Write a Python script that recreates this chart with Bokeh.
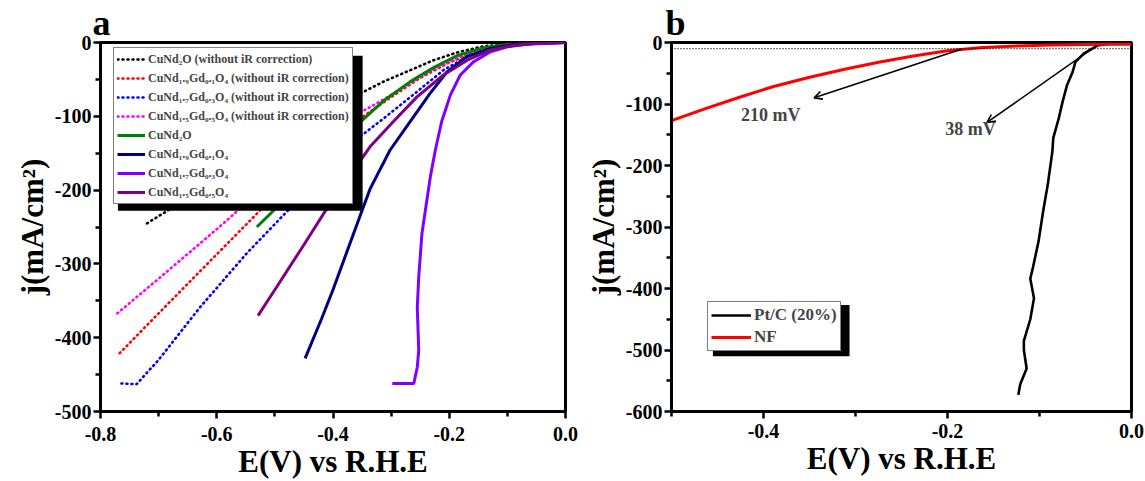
from bokeh.plotting import figure
from bokeh.models import Legend, LegendItem, FixedTicker, Label, Arrow, OpenHead, Span, BoxAnnotation
from bokeh.layouts import row
from bokeh.embed import file_html
from bokeh.resources import INLINE

FONT = "Liberation Serif"

# ---------------- Panel a data ----------------
a_x_ticks = [-0.8, -0.6, -0.4, -0.2, 0.0]
a_x_tick_labels = ["-0.8", "-0.6", "-0.4", "-0.2", "0.0"]
a_x_minor = [-0.7, -0.5, -0.3, -0.1]
a_y_ticks = [-500, -400, -300, -200, -100, 0]
a_y_tick_labels = ["-500", "-400", "-300", "-200", "-100", "0"]
a_y_minor = [-450, -350, -250, -150, -50]

cund2o_noir_x = [-0.72, -0.6, -0.5, -0.4, -0.353, -0.313, -0.267, -0.227, -0.187, -0.141, -0.1, -0.05, 0.0]
cund2o_noir_y = [-245, -187, -139, -91, -69, -53, -37.5, -24, -13.6, -5, -2.5, -0.8, 0]

gd01_noir_x = [-0.767, -0.7, -0.6, -0.526, -0.45, -0.4, -0.353, -0.3, -0.25, -0.2, -0.15, -0.1, -0.05, 0.0]
gd01_noir_y = [-421, -367, -287, -228, -170, -133, -103, -74, -48, -27, -12, -4, -1, 0]

gd03_noir_x = [-0.764, -0.738, -0.7, -0.629, -0.55, -0.478, -0.4, -0.351, -0.313, -0.256, -0.21, -0.169, -0.12, -0.07, 0.0]
gd03_noir_y = [-462, -463, -430, -359, -287, -228, -168, -126, -103, -67, -37.5, -19, -7, -2, 0]

gd05_noir_x = [-0.771, -0.7, -0.6, -0.564, -0.5, -0.4, -0.353, -0.313, -0.27, -0.236, -0.181, -0.14, -0.1, -0.05, 0.0]
gd05_noir_y = [-367, -320, -253, -228, -188, -125, -95, -77, -57, -40, -19, -8, -3.5, -1, 0]

cund2o_x = [-0.531, -0.5, -0.45, -0.4, -0.356, -0.313, -0.267, -0.227, -0.187, -0.141, -0.1, -0.05, 0.0]
cund2o_y = [-250, -226, -183, -145, -110, -79, -53, -34, -18, -7, -2.7, -0.8, 0]

gd01_x = [-0.448, -0.42, -0.4, -0.353, -0.336, -0.302, -0.267, -0.233, -0.204, -0.169, -0.129, -0.09, -0.05, 0.0]
gd01_y = [-428, -375, -335, -234, -198, -146, -107, -69, -40, -19, -8, -3, -1, 0]

gd03_x = [-0.298, -0.261, -0.255, -0.2525, -0.255, -0.2525, -0.247, -0.2325, -0.224, -0.213, -0.198, -0.181, -0.158, -0.129, -0.1, -0.066, -0.03, 0.0]
gd03_y = [-462, -462, -440, -417, -359, -318, -259, -182, -146, -107, -71, -44, -26, -12.6, -5.8, -2.5, -1, 0]

gd05_x = [-0.529, -0.5, -0.45, -0.409, -0.353, -0.336, -0.296, -0.256, -0.21, -0.169, -0.129, -0.09, -0.05, 0.0]
gd05_y = [-370, -335, -274, -223, -160, -141, -107, -74, -44, -24, -10, -4, -1, 0]

a_labels = [
    "CuNd\u2082O (without iR correction)",
    "CuNd\u2081.\u2089Gd\u2080.\u2081O\u2084 (without iR correction)",
    "CuNd\u2081.\u2087Gd\u2080.\u2083O\u2084 (without iR correction)",
    "CuNd\u2081.\u2085Gd\u2080.\u2085O\u2084 (without iR correction)",
    "CuNd\u2082O",
    "CuNd\u2081.\u2089Gd\u2080.\u2081O\u2084",
    "CuNd\u2081.\u2087Gd\u2080.\u2083O\u2084",
    "CuNd\u2081.\u2085Gd\u2080.\u2085O\u2084",
]
a_colors = ["#000000", "#ff0000", "#0000ff", "#ff00ff", "#008000", "#000080", "#8000ff", "#800080"]

# ---------------- Panel b data ----------------
b_x_ticks = [-0.4, -0.2, 0.0]
b_x_tick_labels = ["-0.4", "-0.2", "0.0"]
b_x_minor = [-0.5, -0.3, -0.1]
b_y_ticks = [-600, -500, -400, -300, -200, -100, 0]
b_y_tick_labels = ["-600", "-500", "-400", "-300", "-200", "-100", "0"]
b_y_minor = [-550, -450, -350, -250, -150, -50]

ptc_x = [0.0, -0.02, -0.037, -0.052, -0.061, -0.064, -0.07, -0.075, -0.079, -0.085, -0.086, -0.091, -0.096, -0.101,
         -0.107, -0.11, -0.106, -0.11, -0.117, -0.117, -0.114, -0.121, -0.123]
ptc_y = [0, -1, -5, -18, -32, -48, -69, -97, -123, -155, -177, -231, -274, -323,
         -365, -384, -416, -450, -485, -500, -530, -556, -573]

nf_x = [-0.5, -0.46, -0.426, -0.39, -0.351, -0.313, -0.275, -0.237, -0.2, -0.162, -0.125, -0.087, -0.03, 0.0]
nf_y = [-127, -106, -89, -72, -57, -44, -32, -22, -13.5, -8, -5.5, -4, -3, -3]

b_labels = ["Pt/C (20%)", "NF"]
b_colors = ["#000000", "#ff0000"]

ref_current = -10
ann_210 = dict(text="210 mV", x=-0.392, y=-118, xs=-0.185, ys=-10.8, xe=-0.345, ye=-90)
ann_38 = dict(text="38 mV", x=-0.175, y=-140, xs=-0.038, ys=-5, xe=-0.157, ye=-130)


def style(p, xt, xl, xm, yt, yl, ym, panel, offset, x_standoff):
    p.xgrid.visible = False
    p.ygrid.visible = False
    p.outline_line_color = "black"
    p.outline_line_width = 3
    p.outline_line_alpha = 1
    p.xaxis.ticker = FixedTicker(ticks=xt, minor_ticks=xm)
    p.yaxis.ticker = FixedTicker(ticks=yt, minor_ticks=ym)
    p.xaxis.major_label_overrides = {t: l for t, l in zip(xt, xl)}
    p.yaxis.major_label_overrides = {t: l for t, l in zip(yt, yl)}
    for ax in (p.xaxis, p.yaxis):
        ax.axis_line_width = 3
        ax.axis_line_color = "black"
        ax.major_tick_line_width = 2.5
        ax.minor_tick_line_width = 2.5
        ax.major_tick_out = 7
        ax.major_tick_in = 0
        ax.minor_tick_out = 5
        ax.minor_tick_in = 0
        ax.major_label_text_font = FONT
        ax.major_label_text_font_style = "bold"
        ax.major_label_text_font_size = "20px"
        ax.major_label_text_color = "black"
        ax.axis_label_text_font = FONT
        ax.axis_label_text_font_style = "bold"
        ax.axis_label_text_font_size = "31px"
        ax.axis_label_text_color = "black"
    p.xaxis.major_label_standoff = x_standoff
    p.yaxis.major_label_standoff = 2
    p.xaxis.axis_label_standoff = 0
    p.yaxis.axis_label_standoff = 2
    p.xaxis.axis_label = "E(V) vs R.H.E"
    p.yaxis.axis_label = "j(mA/cm\u00b2)"
    p.title.text = panel
    p.title.text_font = FONT
    p.title.text_font_style = "bold"
    p.title.text_font_size = "36px"
    p.title.text_color = "black"
    p.title.align = "left"
    p.title.offset = offset
    p.title.standoff = 0


# ---------------- Panel a ----------------
pa = figure(width=580, height=481, x_range=(-0.8, 0.0), y_range=(-500, 0),
            min_border_left=100, min_border_right=15, min_border_top=42, min_border_bottom=70,
            output_backend="svg", toolbar_location=None)
style(pa, a_x_ticks, a_x_tick_labels, a_x_minor, a_y_ticks, a_y_tick_labels, a_y_minor, "a", -8, 8)

series_a = [
    (cund2o_noir_x, cund2o_noir_y), (gd01_noir_x, gd01_noir_y), (gd03_noir_x, gd03_noir_y), (gd05_noir_x, gd05_noir_y),
    (cund2o_x, cund2o_y), (gd01_x, gd01_y), (gd03_x, gd03_y), (gd05_x, gd05_y),
]
items_a = []
for i, ((xs, ys), lab, col) in enumerate(zip(series_a, a_labels, a_colors)):
    if i < 4:
        r = pa.line(xs, ys, line_color=col, line_width=2.6, line_dash="1 4", line_cap="round")
    else:
        r = pa.line(xs, ys, line_color=col, line_width=3)
    items_a.append(LegendItem(label=lab, renderers=[r]))

shadow_a = BoxAnnotation(left=-0.770, right=-0.349, top=-18, bottom=-228, fill_color="black", fill_alpha=1,
                         line_color=None)
pa.add_layout(shadow_a)
leg_a = Legend(items=items_a, location=(13, 207), border_line_color="black", border_line_width=1.5,
               background_fill_color="white", background_fill_alpha=1,
               label_text_font=FONT, label_text_font_style="bold", label_text_font_size="12px",
               glyph_width=28, glyph_height=16, label_height=16, spacing=3, padding=3, margin=0,
               label_standoff=3)
pa.add_layout(leg_a)

# ---------------- Panel b ----------------
pb = figure(width=565, height=481, x_range=(-0.5, 0.0), y_range=(-600, 0),
            min_border_left=91, min_border_right=14, min_border_top=42, min_border_bottom=67,
            output_backend="svg", toolbar_location=None)
style(pb, b_x_ticks, b_x_tick_labels, b_x_minor, b_y_ticks, b_y_tick_labels, b_y_minor, "b", -6, 5)

pb.add_layout(Span(location=ref_current, dimension="width", line_color="black", line_width=1.2, line_dash="1 2"))
r_pt = pb.line(ptc_x, ptc_y, line_color=b_colors[0], line_width=2.6)
r_nf = pb.line(nf_x, nf_y, line_color=b_colors[1], line_width=3)

for ann in (ann_210, ann_38):
    pb.add_layout(Arrow(end=OpenHead(size=8, line_width=1.6, line_color="black"),
                        x_start=ann["xs"], y_start=ann["ys"], x_end=ann["xe"], y_end=ann["ye"],
                        line_width=1.6, line_color="black"))
    pb.add_layout(Label(x=ann["x"], y=ann["y"], text=ann["text"], text_font=FONT, text_font_style="bold",
                        text_font_size="18px", text_align="center", text_baseline="middle"))

shadow_b = BoxAnnotation(left=-0.455, right=-0.3065, top=-427, bottom=-510, fill_color="black", fill_alpha=1,
                         line_color=None)
pb.add_layout(shadow_b)
leg_b = Legend(items=[LegendItem(label=b_labels[0], renderers=[r_pt]), LegendItem(label=b_labels[1], renderers=[r_nf])],
               location=(36, 60), border_line_color="black", border_line_width=1.5,
               background_fill_color="white", background_fill_alpha=1,
               label_text_font=FONT, label_text_font_style="bold", label_text_font_size="17px",
               glyph_width=40, glyph_height=20, label_height=20, spacing=2, padding=3, margin=0,
               label_standoff=3)
pb.add_layout(leg_b)

layout = row(pa, pb)
open("out.html", "w").write(file_html(layout, INLINE))
